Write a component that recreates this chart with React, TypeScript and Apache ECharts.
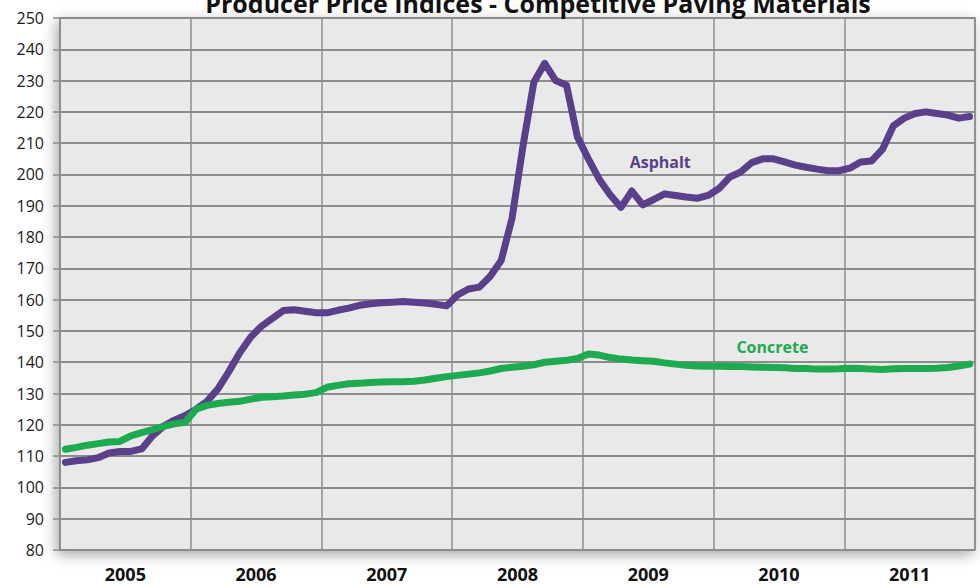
import React, { useEffect, useRef } from "react";
import * as echarts from "echarts";

const TITLE = "Producer Price Indices - Competitive Paving Materials";
const years = ["2005", "2006", "2007", "2008", "2009", "2010", "2011"];
const yTicks = { min: 80, max: 250, step: 10 };

// monthly index values, Jan 2005 .. Dec 2011
const asphalt = [
  108, 108.5, 108.8, 109.5, 111, 111.5, 111.5, 112.3, 116.5, 119.5, 121.5, 123,
  125, 127.5, 131.5, 137, 143, 148, 151.5, 154, 156.5, 156.8, 156.3, 155.8,
  155.8, 156.6, 157.3, 158.2, 158.7, 159, 159.2, 159.4, 159.2, 158.9, 158.5, 158,
  161.5, 163.4, 164, 167.5, 172.5, 186, 209, 229.5, 235.5, 230, 228.5, 212,
  205, 198.5, 193.5, 189.5, 194.7, 190.3, 192, 193.8, 193.3, 192.8, 192.4, 193.3,
  195.5, 199.2, 200.8, 203.8, 205, 205, 204, 203, 202.3, 201.7, 201.2, 201.2,
  202, 204, 204.3, 208, 215.5, 218, 219.5, 220, 219.5, 219, 218, 218.5,
];
const concrete = [
  112.2, 112.8, 113.5, 114, 114.5, 114.7, 116.5, 117.5, 118.5, 119.5, 120.3, 120.8,
  125, 126.2, 126.8, 127.2, 127.5, 128.2, 128.8, 129, 129.2, 129.5, 129.8, 130.3,
  132, 132.6, 133.1, 133.3, 133.5, 133.7, 133.8, 133.8, 133.9, 134.3, 134.9, 135.4,
  135.8, 136.2, 136.6, 137.2, 138, 138.4, 138.7, 139.2, 140, 140.3, 140.6, 141.2,
  142.6, 142.3, 141.5, 141, 140.7, 140.5, 140.3, 139.8, 139.4, 139, 138.8, 138.7,
  138.7, 138.6, 138.6, 138.5, 138.4, 138.3, 138.2, 138, 138, 137.8, 137.8, 137.9,
  138.1, 138, 137.8, 137.7, 137.9, 138, 138, 138, 138.1, 138.3, 138.8, 139.4,
];
const seriesNames = ["Asphalt", "Concrete"];
const labelAnchors = [
  [55.1, 204],
  [65.4, 145],
];

const PURPLE = "#5a3f8a";
const GREEN = "#1eaa50";
const GRID = "#8c8c8c";

export default function App() {
  const ref = useRef<HTMLDivElement>(null);
  useEffect(() => {
    if (!ref.current) return;
    const chart = echarts.init(ref.current, undefined, { renderer: "svg" });
    const toXY = (arr: number[]) => arr.map((v, i) => [i + 0.5, v]);
    const months = asphalt.length;
    const mkSeries = (name: string, data: number[], color: string, anchor: number[]) => ({
      type: "line",
      name,
      xAxisIndex: 0,
      yAxisIndex: 0,
      data: toXY(data),
      showSymbol: false,
      symbol: "none",
      lineStyle: { color, width: 7, cap: "round", join: "round" },
      z: 3,
      markPoint: {
        symbol: "circle",
        symbolSize: 0,
        data: [{ coord: anchor, value: name }],
        label: {
          show: true,
          position: "inside",
          formatter: name,
          color,
          fontFamily: "Open Sans",
          fontWeight: "bold",
          fontSize: 16,
        },
      },
    });
    chart.setOption({
      animation: false,
      backgroundColor: "#ffffff",
      graphic: [
        {
          type: "text",
          x: 538,
          y: 3,
          z: 100,
          style: {
            text: TITLE,
            fill: "#111",
            fontFamily: "Open Sans",
            fontWeight: "bold",
            fontSize: 25,
            align: "center",
            verticalAlign: "middle",
          },
        },
      ],
      grid: {
        left: 60,
        right: 5,
        top: 18,
        bottom: 36,
        show: true,
        backgroundColor: "#e9e9e9",
        borderColor: GRID,
        borderWidth: 1.5,
        shadowBlur: 14,
        shadowColor: "rgba(0,0,0,0.35)",
        shadowOffsetX: -3,
        shadowOffsetY: 4,
      },
      xAxis: [
        {
          type: "value",
          min: 0,
          max: months,
          interval: 12,
          axisLine: { show: false },
          axisTick: { show: false },
          axisLabel: { show: false },
          splitLine: { show: true, lineStyle: { color: GRID, width: 1.5 } },
        },
        {
          type: "category",
          data: years,
          position: "bottom",
          boundaryGap: true,
          axisLine: { show: false },
          axisTick: { show: false },
          splitLine: { show: false },
          axisLabel: {
            color: "#111",
            fontFamily: "Open Sans",
            fontWeight: "bold",
            fontSize: 18,
            margin: 15,
          },
        },
      ],
      yAxis: {
        type: "value",
        min: yTicks.min,
        max: yTicks.max,
        interval: yTicks.step,
        axisLine: { show: true, lineStyle: { color: GRID, width: 1.5 } },
        axisTick: { show: true, length: 7, lineStyle: { color: GRID, width: 1.5 } },
        axisLabel: {
          color: "#1a1a1a",
          fontFamily: "Open Sans",
          fontSize: 16,
          margin: 16,
        },
        splitLine: { show: true, lineStyle: { color: GRID, width: 2 } },
      },
      series: [
        mkSeries(seriesNames[0], asphalt, PURPLE, labelAnchors[0]),
        mkSeries(seriesNames[1], concrete, GREEN, labelAnchors[1]),
      ],
    });
    return () => chart.dispose();
  }, []);
  return (
    <div
      ref={ref}
      style={{ position: "fixed", left: 0, top: 0, width: 980, height: 586 }}
    />
  );
}
